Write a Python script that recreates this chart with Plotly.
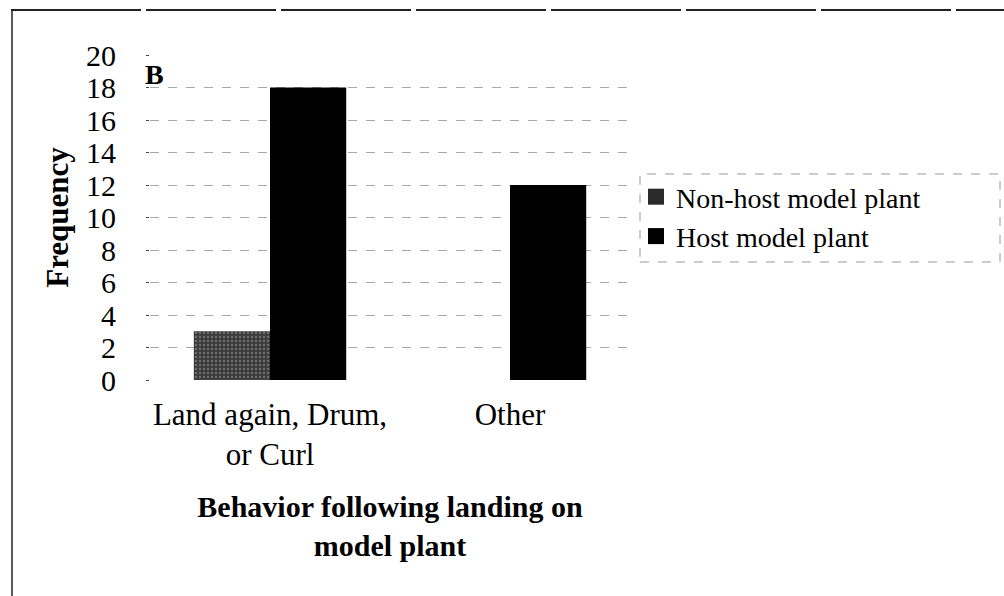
import plotly.graph_objects as go

categories = ["Land again, Drum,<br>or Curl", "Other"]
series_names = ["Non-host model plant", "Host model plant"]
nonhost_values = [3, 0]
host_values = [18, 12]
y_ticks = list(range(0, 21, 2))

L, R, T, B = 150, 374, 55, 216
W, H = 1004, 596
pw, ph = W - L - R, H - T - B

def px(x):
    return (x - L) / pw

def py(y):
    return (H - B - y) / ph

font = "Liberation Serif, Times New Roman, serif"

fig = go.Figure()
fig.add_trace(go.Bar(
    x=categories, y=nonhost_values, name=series_names[0], showlegend=False,
    marker=dict(color="#3c3c3c", line=dict(width=0),
                pattern=dict(shape=".", fgcolor="#a8a8a8", bgcolor="#3c3c3c", size=4, solidity=0.25)),
))
fig.add_trace(go.Bar(
    x=categories, y=host_values, name=series_names[1], showlegend=False,
    marker=dict(color="#000000", line=dict(width=0)),
))
# legend entries with large square swatches
fig.add_trace(go.Scatter(
    x=[None], y=[None], mode="markers", name=series_names[0],
    marker=dict(symbol="square", size=20, color="#2a2a2a", line=dict(width=0)),
))
fig.add_trace(go.Scatter(
    x=[None], y=[None], mode="markers", name=series_names[1],
    marker=dict(symbol="square", size=20, color="#000000", line=dict(width=0)),
))

fig.update_layout(
    width=W, height=H,
    margin=dict(l=L, r=R, t=T, b=B, autoexpand=False),
    paper_bgcolor="white", plot_bgcolor="white",
    barmode="group", bargap=0.365, bargroupgap=0,
    font=dict(family=font, color="black", size=30),
    showlegend=True,
    legend=dict(x=px(636), y=py(172), xanchor="left", yanchor="top",
                font=dict(size=28, family=font), bgcolor="rgba(0,0,0,0)",
                itemwidth=30, tracegroupgap=0),
    xaxis=dict(showgrid=False, showline=False, ticks="", zeroline=False,
               tickfont=dict(size=31, family=font), ticklabelstandoff=13,
               title=dict(text="<b>Behavior following landing on<br>model plant</b>",
                          font=dict(size=30, family=font), standoff=24)),
    yaxis=dict(range=[0, 20], tickvals=y_ticks, showgrid=True,
               gridcolor="#a8a8a8", griddash="dash", gridwidth=1,
               showline=False, zeroline=False, ticks="outside", ticklen=3,
               tickcolor="#444", tickfont=dict(size=30, family=font),
               ticklabelstandoff=24,
               title=dict(text="<b>Frequency</b>", font=dict(size=31, family=font), standoff=8)),
    annotations=[dict(text="<b>B</b>", x=px(143), y=py(57), xref="paper", yref="paper",
                      xanchor="left", yanchor="top", showarrow=False,
                      font=dict(size=28, family=font))],
    shapes=[
        dict(type="line", xref="paper", yref="paper",
             x0=px(11), x1=px(1004), y0=py(10), y1=py(10),
             line=dict(color="#222", width=2, dash="130px,5px")),
        dict(type="line", xref="paper", yref="paper",
             x0=px(12), x1=px(12), y0=py(10), y1=py(600),
             line=dict(color="#222", width=1.5)),
        dict(type="rect", xref="paper", yref="paper",
             x0=px(640), x1=px(1000), y0=py(262), y1=py(174),
             line=dict(color="#999", width=1, dash="dash")),
    ],
)

fig.write_html("out.html", config={"displayModeBar": False},
               post_script="document.body.style.margin='0';")
